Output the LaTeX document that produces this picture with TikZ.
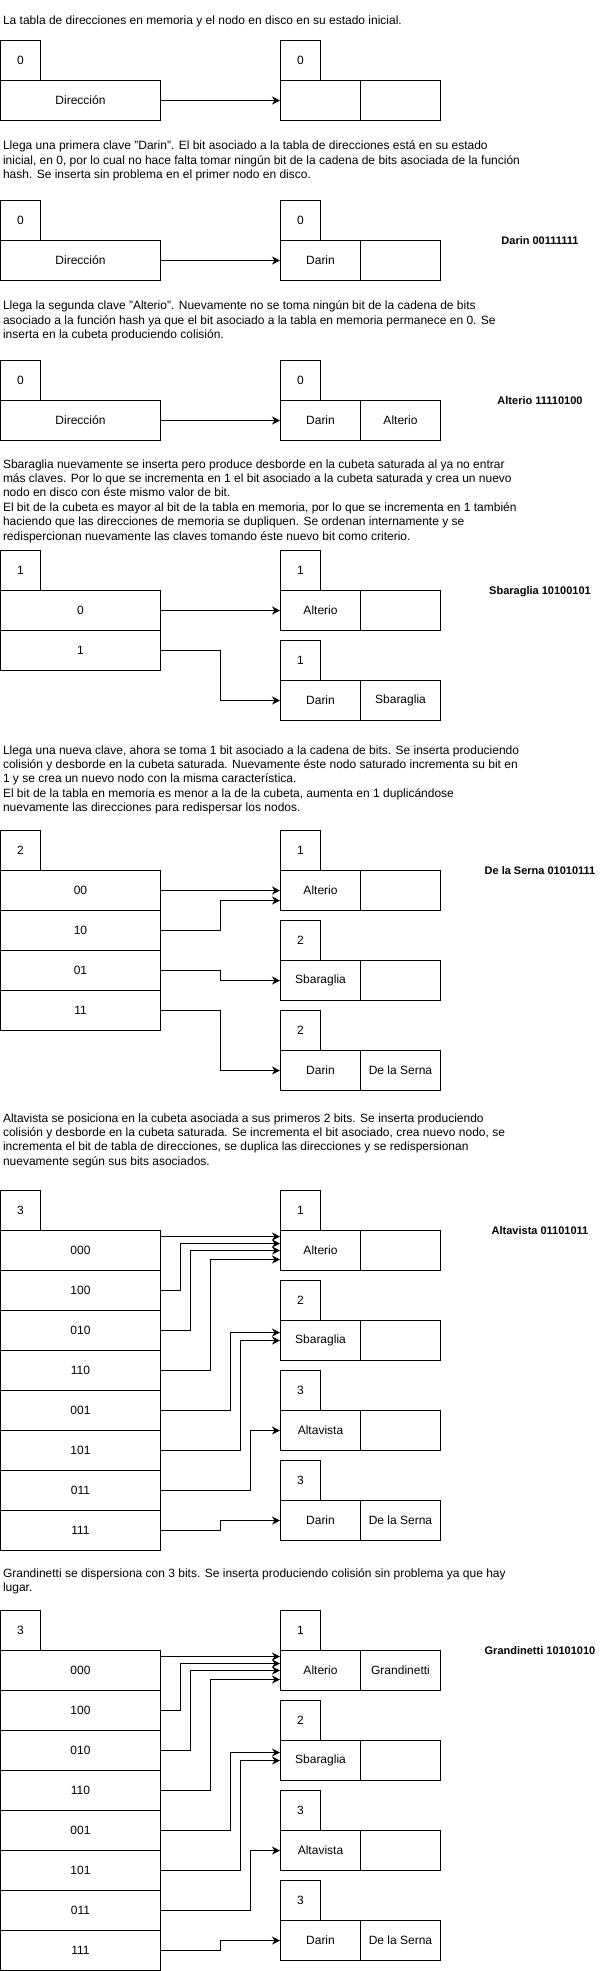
\documentclass[tikz,border=0pt]{standalone}
\usepackage{fontspec}
\setmainfont{Liberation Sans}
\usetikzlibrary{arrows.meta}
\begin{document}
\begin{tikzpicture}[x=1pt,y=-1pt,line width=1pt,
  fnt/.style={font=\fontsize{12}{14.4}\selectfont},
  bitbox/.style={draw,rectangle,minimum width=40pt,minimum height=40pt,inner sep=0pt,fnt},
  dirbox/.style={draw,rectangle,minimum width=160pt,minimum height=40pt,inner sep=0pt,fnt},
  cell/.style={draw,rectangle,minimum width=80pt,minimum height=40pt,inner sep=0pt,fnt},
  txt/.style={anchor=base west,inner sep=0pt,fnt},
  lbl/.style={anchor=base,inner sep=0pt,font=\bfseries\fontsize{11}{13}\selectfont},
  arr/.style={-{Stealth[length=8pt,width=8pt,inset=2.5pt]},line width=1pt}]
\useasboundingbox (0,0) rectangle (611,1971);

% ---------- Section 1
\node[txt] (t1a) at (2.5,24.5) {La tabla de direcciones en memoria y el nodo en disco en su estado inicial.};
\node[bitbox] (s1b) at (20.5,60.5) {0};
\node[dirbox] (s1r0) at (80.5,100.5) {Dirección};
\node[bitbox] (s1k1b) at (300.5,60.5) {0};
\node[cell] (s1k1a) at (320.5,100.5) {};
\node[cell] (s1k1c) at (400.5,100.5) {};
\draw[arr] (s1r0.east) -- (s1k1a.west);

% ---------- Section 2
\node[txt] (t2a) at (2.5,149.7) {Llega una primera clave "Darin". El bit asociado a la tabla de direcciones está en su estado};
\node[txt] (t2b) at (2.5,164.1) {inicial, en 0, por lo cual no hace falta tomar ningún bit de la cadena de bits asociada de la función};
\node[txt] (t2c) at (2.5,178.5) {hash. Se inserta sin problema en el primer nodo en disco.};
\node[bitbox] (s2b) at (20.5,220.5) {0};
\node[dirbox] (s2r0) at (80.5,260.5) {Dirección};
\node[bitbox] (s2k1b) at (300.5,220.5) {0};
\node[cell] (s2k1a) at (320.5,260.5) {Darin};
\node[cell] (s2k1c) at (400.5,260.5) {};
\node[lbl] (l2) at (540,244.5) {Darin 00111111};
\draw[arr] (s2r0.east) -- (s2k1a.west);

% ---------- Section 3
\node[txt] (t3a) at (2.5,309.7) {Llega la segunda clave "Alterio". Nuevamente no se toma ningún bit de la cadena de bits};
\node[txt] (t3b) at (2.5,324.1) {asociado a la función hash ya que el bit asociado a la tabla en memoria permanece en 0. Se};
\node[txt] (t3c) at (2.5,338.5) {inserta en la cubeta produciendo colisión.};
\node[bitbox] (s3b) at (20.5,380.5) {0};
\node[dirbox] (s3r0) at (80.5,420.5) {Dirección};
\node[bitbox] (s3k1b) at (300.5,380.5) {0};
\node[cell] (s3k1a) at (320.5,420.5) {Darin};
\node[cell] (s3k1c) at (400.5,420.5) {Alterio};
\node[lbl] (l3) at (540,404.5) {Alterio 11110100};
\draw[arr] (s3r0.east) -- (s3k1a.west);

% ---------- Section 4
\node[txt] (t4a) at (2.5,468) {Sbaraglia nuevamente se inserta pero produce desborde en la cubeta saturada al ya no entrar};
\node[txt] (t4b) at (2.5,482.4) {más claves. Por lo que se incrementa en 1 el bit asociado a la cubeta saturada y crea un nuevo};
\node[txt] (t4c) at (2.5,496.8) {nodo en disco con éste mismo valor de bit.};
\node[txt] (t4d) at (2.5,511.2) {El bit de la cubeta es mayor al bit de la tabla en memoria, por lo que se incrementa en 1 también};
\node[txt] (t4e) at (2.5,525.6) {haciendo que las direcciones de memoria se dupliquen. Se ordenan internamente y se};
\node[txt] (t4f) at (2.5,540) {redispercionan nuevamente las claves tomando éste nuevo bit como criterio.};
\node[bitbox] (s4b) at (20.5,570.5) {1};
\node[dirbox] (s4r0) at (80.5,610.5) {0};
\node[dirbox] (s4r1) at (80.5,650.5) {1};
\node[bitbox] (s4k1b) at (300.5,570.5) {1};
\node[cell] (s4k1a) at (320.5,610.5) {Alterio};
\node[cell] (s4k1c) at (400.5,610.5) {};
\node[bitbox] (s4k2b) at (300.5,660.5) {1};
\node[cell] (s4k2a) at (320.5,700.5) {Darin};
\node[cell] (s4k2c) at (400.5,700.5) {Sbaraglia};
\node[lbl] (l4) at (540,594.5) {Sbaraglia 10100101};
\draw[arr] (s4r0.east) -- (s4k1a.west);
\draw[arr] (s4r1.east) -- ++(59.5,0) |- (s4k2a.west);

% ---------- Section 5
\node[txt] (t5a) at (2.5,754) {Llega una nueva clave, ahora se toma 1 bit asociado a la cadena de bits. Se inserta produciendo};
\node[txt] (t5b) at (2.5,768.4) {colisión y desborde en la cubeta saturada. Nuevamente éste nodo saturado incrementa su bit en};
\node[txt] (t5c) at (2.5,782.8) {1 y se crea un nuevo nodo con la misma característica.};
\node[txt] (t5d) at (2.5,797.2) {El bit de la tabla en memoria es menor a la de la cubeta, aumenta en 1 duplicándose};
\node[txt] (t5e) at (2.5,811.6) {nuevamente las direcciones para redispersar los nodos.};
\node[bitbox] (s5b) at (20.5,850.5) {2};
\node[dirbox] (s5r0) at (80.5,890.5) {00};
\node[dirbox] (s5r1) at (80.5,930.5) {10};
\node[dirbox] (s5r2) at (80.5,970.5) {01};
\node[dirbox] (s5r3) at (80.5,1010.5) {11};
\node[bitbox] (s5k1b) at (300.5,850.5) {1};
\node[cell] (s5k1a) at (320.5,890.5) {Alterio};
\node[cell] (s5k1c) at (400.5,890.5) {};
\node[bitbox] (s5k2b) at (300.5,940.5) {2};
\node[cell] (s5k2a) at (320.5,980.5) {Sbaraglia};
\node[cell] (s5k2c) at (400.5,980.5) {};
\node[bitbox] (s5k3b) at (300.5,1030.5) {2};
\node[cell] (s5k3a) at (320.5,1070.5) {Darin};
\node[cell] (s5k3c) at (400.5,1070.5) {De la Serna};
\node[lbl] (l5) at (540,874.5) {De la Serna 01010111};
\draw[arr] (s5r0.east) -- (s5k1a.west);
\draw[arr] (s5r1.east) -- ++(59.5,0) |- ([yshift=-10pt]s5k1a.west);
\draw[arr] (s5r2.east) -- ++(59.5,0) |- (s5k2a.west);
\draw[arr] (s5r3.east) -- ++(59.5,0) |- (s5k3a.west);

% ---------- Section 6
\node[txt] (t6a) at (2.5,1122) {Altavista se posiciona en la cubeta asociada a sus primeros 2 bits. Se inserta produciendo};
\node[txt] (t6b) at (2.5,1136.4) {colisión y desborde en la cubeta saturada. Se incrementa el bit asociado, crea nuevo nodo, se};
\node[txt] (t6c) at (2.5,1150.8) {incrementa el bit de tabla de direcciones, se duplica las direcciones y se redispersionan};
\node[txt] (t6d) at (2.5,1165.2) {nuevamente según sus bits asociados.};
\node[bitbox] (s6b) at (20.5,1210.5) {3};
\node[dirbox] (s6r0) at (80.5,1250.5) {000};
\node[dirbox] (s6r1) at (80.5,1290.5) {100};
\node[dirbox] (s6r2) at (80.5,1330.5) {010};
\node[dirbox] (s6r3) at (80.5,1370.5) {110};
\node[dirbox] (s6r4) at (80.5,1410.5) {001};
\node[dirbox] (s6r5) at (80.5,1450.5) {101};
\node[dirbox] (s6r6) at (80.5,1490.5) {011};
\node[dirbox] (s6r7) at (80.5,1530.5) {111};
\node[bitbox] (s6k1b) at (300.5,1210.5) {1};
\node[cell] (s6k1a) at (320.5,1250.5) {Alterio};
\node[cell] (s6k1c) at (400.5,1250.5) {};
\node[bitbox] (s6k2b) at (300.5,1300.5) {2};
\node[cell] (s6k2a) at (320.5,1340.5) {Sbaraglia};
\node[cell] (s6k2c) at (400.5,1340.5) {};
\node[bitbox] (s6k3b) at (300.5,1390.5) {3};
\node[cell] (s6k3a) at (320.5,1430.5) {Altavista};
\node[cell] (s6k3c) at (400.5,1430.5) {};
\node[bitbox] (s6k4b) at (300.5,1480.5) {3};
\node[cell] (s6k4a) at (320.5,1520.5) {Darin};
\node[cell] (s6k4c) at (400.5,1520.5) {De la Serna};
\node[lbl] (l6) at (540,1234.5) {Altavista 01101011};
\draw[arr] ([yshift=14pt]s6r0.east) -- ([yshift=14pt]s6k1a.west);
\draw[arr] (s6r1.east) -- ++(19.5,0) |- ([yshift=7pt]s6k1a.west);
\draw[arr] (s6r2.east) -- ++(29.5,0) |- (s6k1a.west);
\draw[arr] (s6r3.east) -- ++(49.5,0) |- ([yshift=-9pt]s6k1a.west);
\draw[arr] (s6r4.east) -- ++(69.5,0) |- ([yshift=8pt]s6k2a.west);
\draw[arr] (s6r5.east) -- ++(79.5,0) |- (s6k2a.west);
\draw[arr] (s6r6.east) -- ++(89.5,0) |- (s6k3a.west);
\draw[arr] (s6r7.east) -- ++(59.5,0) |- (s6k4a.west);

% ---------- Section 7
\node[txt] (t7a) at (2.5,1577) {Grandinetti se dispersiona con 3 bits. Se inserta produciendo colisión sin problema ya que hay};
\node[txt] (t7b) at (2.5,1591.4) {lugar.};
\node[bitbox] (s7b) at (20.5,1630.5) {3};
\node[dirbox] (s7r0) at (80.5,1670.5) {000};
\node[dirbox] (s7r1) at (80.5,1710.5) {100};
\node[dirbox] (s7r2) at (80.5,1750.5) {010};
\node[dirbox] (s7r3) at (80.5,1790.5) {110};
\node[dirbox] (s7r4) at (80.5,1830.5) {001};
\node[dirbox] (s7r5) at (80.5,1870.5) {101};
\node[dirbox] (s7r6) at (80.5,1910.5) {011};
\node[dirbox] (s7r7) at (80.5,1950.5) {111};
\node[bitbox] (s7k1b) at (300.5,1630.5) {1};
\node[cell] (s7k1a) at (320.5,1670.5) {Alterio};
\node[cell] (s7k1c) at (400.5,1670.5) {Grandinetti};
\node[bitbox] (s7k2b) at (300.5,1720.5) {2};
\node[cell] (s7k2a) at (320.5,1760.5) {Sbaraglia};
\node[cell] (s7k2c) at (400.5,1760.5) {};
\node[bitbox] (s7k3b) at (300.5,1810.5) {3};
\node[cell] (s7k3a) at (320.5,1850.5) {Altavista};
\node[cell] (s7k3c) at (400.5,1850.5) {};
\node[bitbox] (s7k4b) at (300.5,1900.5) {3};
\node[cell] (s7k4a) at (320.5,1940.5) {Darin};
\node[cell] (s7k4c) at (400.5,1940.5) {De la Serna};
\node[lbl] (l7) at (540,1654.5) {Grandinetti 10101010};
\draw[arr] ([yshift=14pt]s7r0.east) -- ([yshift=14pt]s7k1a.west);
\draw[arr] (s7r1.east) -- ++(19.5,0) |- ([yshift=7pt]s7k1a.west);
\draw[arr] (s7r2.east) -- ++(29.5,0) |- (s7k1a.west);
\draw[arr] (s7r3.east) -- ++(49.5,0) |- ([yshift=-9pt]s7k1a.west);
\draw[arr] (s7r4.east) -- ++(69.5,0) |- ([yshift=8pt]s7k2a.west);
\draw[arr] (s7r5.east) -- ++(79.5,0) |- (s7k2a.west);
\draw[arr] (s7r6.east) -- ++(89.5,0) |- (s7k3a.west);
\draw[arr] (s7r7.east) -- ++(59.5,0) |- (s7k4a.west);
\end{tikzpicture}
\end{document}
